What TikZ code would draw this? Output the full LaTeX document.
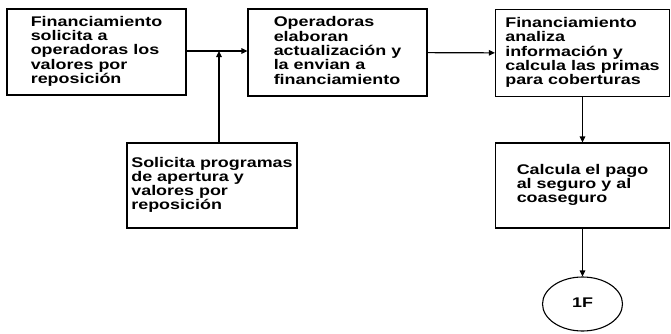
\documentclass[tikz,border=0pt]{standalone}
\usepackage{fontspec}
\usepackage{graphicx}
\setmainfont{Liberation Sans}
\usetikzlibrary{arrows.meta,positioning,shapes.geometric}
% wide lettering, as in the scanned chart
\newcommand{\widetxt}[1]{\scalebox{1.28}[1]{\begin{tabular}{@{}l@{}}#1\end{tabular}}}
\tikzset{
  pbox/.style  ={draw=black, line width=1.1pt, inner sep=2pt,
                 font=\bfseries\fontsize{14}{13.75}\selectfont},
  conbox/.style={draw=black, ellipse, line width=1.1pt, inner sep=0pt,
                 minimum width=80pt, minimum height=54pt,
                 font=\bfseries\fontsize{14}{16}\selectfont},
  ar/.style    ={-{Triangle[length=6pt,width=5.5pt]}, line width=1.1pt},
}
\begin{document}
\begin{tikzpicture}[x=1pt,y=1pt]
\useasboundingbox (0,0) rectangle (671,333);
\node[pbox, minimum width=179pt, minimum height=86pt] (sol) at (96.5,281) {\widetxt{Financiamiento\\solicita a\\operadoras los\\valores por\\reposición}};
\node[pbox, minimum width=179pt, minimum height=87pt] (ope) at (337.5,280.5) {\widetxt{Operadoras\\elaboran\\actualización y\\la envian a\\financiamiento}};
\node[pbox, minimum width=174pt, minimum height=87pt] (ana) at (582.5,280) {\widetxt{Financiamiento\\analiza\\información y\\calcula las primas\\para coberturas}};
\node[pbox, minimum width=170pt, minimum height=85pt] (prog) at (212,147.5) {\widetxt{Solicita programas\\de apertura y\\valores por\\reposición}};
\node[pbox, minimum width=174pt, minimum height=85pt] (pago) at (582.5,147.5) {\widetxt{Calcula el pago\\al seguro y al\\coaseguro}};
\node[conbox] (fin) at (582.5,29) {\widetxt{1F}};
\coordinate (j) at (219,282);
\draw[ar] (sol.east |- j) -- (ope.west |- j); \draw[ar] (ope) -- (ana);
\draw[ar] (prog.north -| j) -- (j);
\draw[ar] (ana) -- (pago); \draw[ar] (pago) -- (fin);
\end{tikzpicture}
\end{document}
